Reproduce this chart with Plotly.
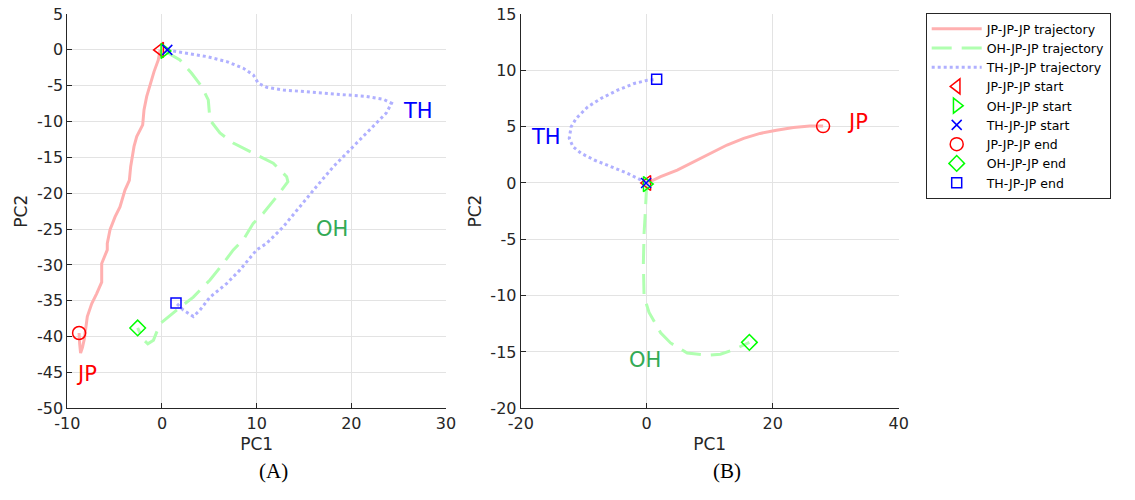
import plotly.graph_objects as go

# ---------------- Panel A data ----------------
A_jp_x = [-0.2, -0.39, -0.84, -1.27, -1.62, -1.90, -2.04, -2.67, -2.96, -3.31, -3.45, -3.91, -4.44,
          -4.96, -5.49, -5.78, -5.78, -6.37, -6.37, -6.90, -7.42, -7.89, -8.03, -8.20, -8.40, -8.60,
          -8.70, -8.76]
A_jp_y = [0.0, -1.40, -3.03, -5.12, -6.52, -8.38, -10.47, -12.1, -13.5, -16.3, -18.2, -19.55, -21.9,
          -23.3, -25.1, -27.0, -27.9, -29.8, -32.4, -34.0, -35.4, -37.2, -38.6, -40.3, -41.5, -42.3,
          -41.0, -39.5]

A_oh_x = [0.25, 1.90, 3.13, 4.19, 4.89, 5.07, 6.12, 7.53, 9.64, 11.75, 13.17, 13.3, 12.1, 10.7, 9.64,
          8.59, 7.53, 6.47, 5.07, 3.31, 1.55, -0.21, -0.90, -1.50, -2.00, -2.57]
A_oh_y = [-0.15, -1.40, -3.26, -5.12, -6.98, -9.78, -11.6, -13.0, -14.4, -15.8, -17.7, -18.4, -20.5,
          -22.8, -24.2, -26.5, -27.9, -29.8, -32.1, -34.5, -36.3, -38.2, -40.5, -41.0, -40.4, -38.8]

A_th_x = [0.56, 0.84, 2.6, 4.72, 6.83, 8.59, 9.64, 10.17, 11.05, 12.81, 16.3, 19.85, 21.6, 23.4, 24.25,
          23.7, 22.3, 20.2, 18.1, 16.3, 14.6, 12.8, 11.05, 10.0, 8.24, 6.83, 5.07, 4.01, 3.31, 2.25, 1.48]
A_th_y = [0.0, -0.1, -0.47, -0.93, -1.63, -2.56, -3.49, -4.65, -5.21, -5.59, -5.96, -6.28, -6.5, -6.9,
          -7.45, -8.8, -10.7, -13.5, -16.3, -19.1, -21.9, -24.7, -27.0, -27.9, -30.7, -32.6, -34.5,
          -36.3, -37.2, -36.3, -35.3]

# ---------------- Panel B data ----------------
B_jp_x = [0.1, 2.21, 4.85, 7.47, 10.1, 12.75, 15.4, 18.0, 20.6, 23.3, 25.9, 28.0]
B_jp_y = [0.0, 0.56, 1.15, 1.89, 2.63, 3.37, 3.96, 4.4, 4.69, 4.93, 5.05, 5.05]

B_oh_x = [0.0, -0.1, -0.26, -0.42, -0.53, -0.42, 0.37, 2.21, 3.79, 6.43, 9.59, 11.7, 13.8, 16.3]
B_oh_y = [-0.1, -0.91, -2.98, -4.46, -7.11, -10.07, -11.5, -13.3, -14.2, -15.1, -15.3, -15.2, -14.8, -14.15]

B_th_x = [-0.1, -0.95, -3.05, -5.69, -8.32, -10.4, -11.7, -12.3, -12.0, -11.2, -9.37, -7.27, -4.63,
          -2.0, 0.1, 1.58]
B_th_y = [0.0, 0.27, 0.86, 1.44, 2.04, 2.63, 3.22, 3.96, 4.99, 5.73, 6.76, 7.5, 8.24, 8.83, 9.12, 9.2]

# axis ranges and tick values / labels (hyphen-minus as in the reference)
A_xrange = [-10, 30]
A_yrange = [-50, 5]
B_xrange = [-20, 40]
B_yrange = [-20, 15]
A_xticks = [-10, 0, 10, 20, 30]
A_yticks = [5, 0, -5, -10, -15, -20, -25, -30, -35, -40, -45, -50]
B_xticks = [-20, 0, 20, 40]
B_yticks = [15, 10, 5, 0, -5, -10, -15, -20]

# labels (text, x, y) for each panel
A_labels = ["TH", "OH", "JP"]
A_label_x = [27.0, 18.0, -7.95]
A_label_y = [-8.5, -25.0, -45.2]
B_labels = ["TH", "JP", "OH"]
B_label_x = [-16.0, 33.5, -0.26]
B_label_y = [4.1, 5.4, -15.7]
label_colors = {"TH": "#0000ff", "OH": "#33aa55", "JP": "#ff0000"}

series = ["JP-JP-JP", "OH-JP-JP", "TH-JP-JP"]
line_colors = ["#ffb0b0", "#b0ffb0", "#b0b0ff"]
line_dash = ["solid", "20px,10px", "dot"]
mark_colors = ["#ff0000", "#00ff00", "#0000ff"]
start_symbols = ["triangle-left-open", "triangle-right-open", "x-thin-open"]
end_symbols = ["circle-open", "diamond-open", "square-open"]
start_sizes = [13, 13, 10]
end_sizes = [13, 12, 10]

fig = go.Figure()

panels = [
    ("x", "y", [(A_jp_x, A_jp_y), (A_oh_x, A_oh_y), (A_th_x, A_th_y)], True),
    ("x2", "y2", [(B_jp_x, B_jp_y), (B_oh_x, B_oh_y), (B_th_x, B_th_y)], False),
]

for xa, ya, data, show in panels:
    for i, (xs, ys) in enumerate(data):
        fig.add_trace(go.Scatter(
            x=xs, y=ys, mode="lines", xaxis=xa, yaxis=ya,
            name=f"{series[i]} trajectory", showlegend=show, legendrank=1 + i,
            line=dict(color=line_colors[i], width=3, dash=line_dash[i]),
            hoverinfo="skip"))
    for i, (xs, ys) in enumerate(data):
        fig.add_trace(go.Scatter(
            x=[xs[0]], y=[ys[0]], mode="markers", xaxis=xa, yaxis=ya,
            name=f"{series[i]} start", showlegend=show, legendrank=4 + i,
            marker=dict(symbol=start_symbols[i], size=start_sizes[i], color=mark_colors[i],
                        line=dict(color=mark_colors[i], width=1.5))))
    for i, (xs, ys) in enumerate(data):
        fig.add_trace(go.Scatter(
            x=[xs[-1]], y=[ys[-1]], mode="markers", xaxis=xa, yaxis=ya,
            name=f"{series[i]} end", showlegend=show, legendrank=7 + i,
            marker=dict(symbol=end_symbols[i], size=end_sizes[i], color=mark_colors[i],
                        line=dict(color=mark_colors[i], width=1.5))))

# body margin is removed in the page (post_script), so the figure sits at (0, 0)
W, H = 1135, 500


def px_x(p):
    return p / W


def px_y(p):
    return 1 - p / H


annotations = []
for t, x, y in zip(A_labels, A_label_x, A_label_y):
    annotations.append(dict(text=t, x=x, y=y, xref="x", yref="y", showarrow=False,
                            font=dict(family="DejaVu Sans", size=21, color=label_colors[t])))
for t, x, y in zip(B_labels, B_label_x, B_label_y):
    annotations.append(dict(text=t, x=x, y=y, xref="x2", yref="y2", showarrow=False,
                            font=dict(family="DejaVu Sans", size=21, color=label_colors[t])))
annotations.append(dict(text="(A)", x=px_x(257), y=px_y(485), xref="paper", yref="paper",
                        showarrow=False, font=dict(family="Liberation Serif", size=21, color="black")))
annotations.append(dict(text="(B)", x=px_x(727), y=px_y(485), xref="paper", yref="paper",
                        showarrow=False, font=dict(family="Liberation Serif", size=21, color="black")))

dark = "#262626"
grid = "#e3e3e3"
axis_common = dict(showgrid=True, gridcolor=grid, gridwidth=1, zeroline=False, showline=True,
                   linecolor=dark, linewidth=1, ticks="inside", ticklen=5, tickcolor=dark,
                   tickfont=dict(family="DejaVu Sans", size=16, color=dark), mirror=False,
                   automargin=False, tickmode="array", ticklabeloverflow="allow")


def ticktext(vals):
    return [str(v) for v in vals]


def padded(r):
    # tiny extension so the boundary ticks/grid lines are kept
    span = r[1] - r[0]
    return [r[0] - span * 1e-4, r[1] + span * 1e-4]


title_font = dict(family="DejaVu Sans", size=17, color=dark)
ydom = [px_y(408.3), px_y(14)]
fig.update_layout(
    width=W, height=H,
    margin=dict(l=0, r=0, t=0, b=0, autoexpand=False),
    paper_bgcolor="white", plot_bgcolor="white",
    font=dict(family="DejaVu Sans", color=dark),
    xaxis=dict(domain=[px_x(67.3), px_x(446)], range=padded(A_xrange), anchor="y",
               tickvals=A_xticks, ticktext=ticktext(A_xticks),
               title=dict(text="PC1", font=title_font, standoff=6), **axis_common),
    yaxis=dict(domain=ydom, range=padded(A_yrange), anchor="x",
               tickvals=A_yticks, ticktext=ticktext(A_yticks),
               title=dict(text="PC2", font=title_font, standoff=4), **axis_common),
    xaxis2=dict(domain=[px_x(520.7), px_x(898.7)], range=padded(B_xrange), anchor="y2",
                tickvals=B_xticks, ticktext=ticktext(B_xticks),
                title=dict(text="PC1", font=title_font, standoff=6), **axis_common),
    yaxis2=dict(domain=ydom, range=padded(B_yrange), anchor="x2",
                tickvals=B_yticks, ticktext=ticktext(B_yticks),
                title=dict(text="PC2", font=title_font, standoff=4), **axis_common),
    legend=dict(x=px_x(925.7), y=px_y(13), xanchor="left", yanchor="top",
                bgcolor="white", bordercolor=dark, borderwidth=1,
                font=dict(family="DejaVu Sans", size=12.5, color="black"),
                traceorder="normal", tracegroupgap=0, itemwidth=50),
    annotations=annotations,
    showlegend=True,
)

fig.write_html("out.html",
               config={"displayModeBar": False},
               post_script="document.body.style.margin='0';document.body.style.overflow='hidden';")
